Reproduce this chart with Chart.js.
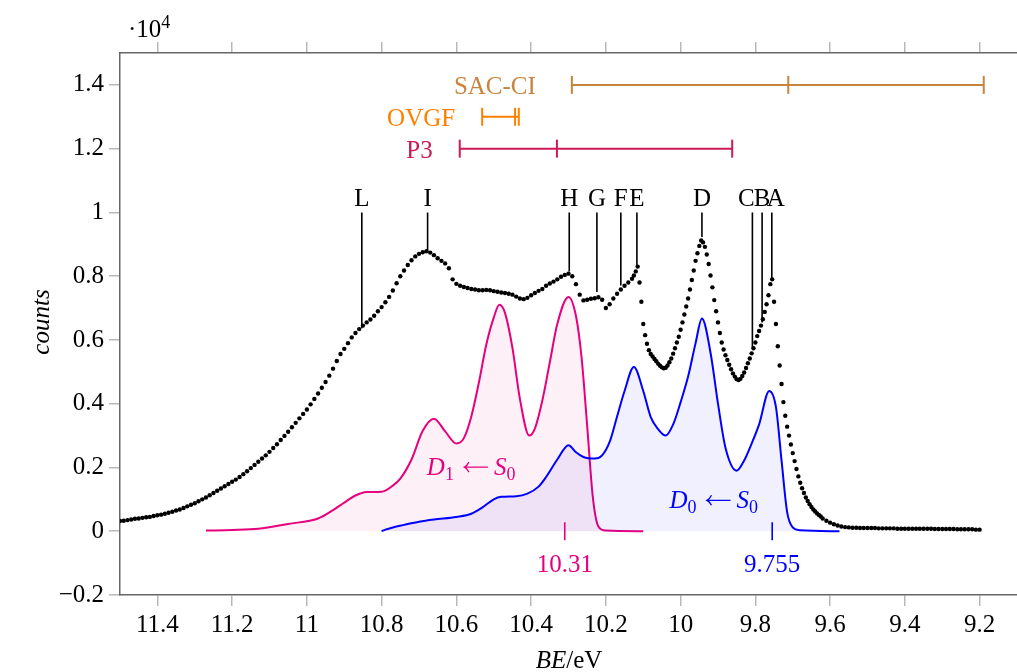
<!DOCTYPE html>
<html lang="en">
<head>
    <meta charset="UTF-8">
    <title>Photoelectron spectrum</title>
    <script src="https://cdn.jsdelivr.net/npm/chart.js"></script>
    <style>
        html, body { margin: 0; padding: 0; overflow: hidden; background: #fff; }
        #spectrumChart { display: block; }
    </style>
</head>
<body>

    <canvas id="spectrumChart" width="1028" height="672"></canvas>

    <script>
        // measured spectrum, BE in eV, counts in units of 10^4
        const expBE = [
            11.50, 11.49, 11.48, 11.47, 11.46, 11.45, 11.44, 11.43, 11.42, 11.41,
            11.40, 11.39, 11.38, 11.37, 11.36, 11.35, 11.34, 11.33, 11.32, 11.31,
            11.30, 11.29, 11.28, 11.27, 11.26, 11.25, 11.24, 11.23, 11.22, 11.21,
            11.20, 11.19, 11.18, 11.17, 11.16, 11.15, 11.14, 11.13, 11.12, 11.11,
            11.10, 11.09, 11.08, 11.07, 11.06, 11.05, 11.04, 11.03, 11.02, 11.01,
            11.00, 10.99, 10.98, 10.97, 10.96, 10.95, 10.94, 10.93, 10.92, 10.91,
            10.90, 10.89, 10.88, 10.87, 10.86, 10.85, 10.84, 10.83, 10.82, 10.81,
            10.80, 10.79, 10.78, 10.77, 10.76, 10.75, 10.74, 10.73, 10.72, 10.71,
            10.70, 10.69, 10.68, 10.67, 10.66, 10.65, 10.64, 10.63, 10.62, 10.61,
            10.60, 10.59, 10.58, 10.57, 10.56, 10.55, 10.54, 10.53, 10.52, 10.51,
            10.50, 10.49, 10.48, 10.47, 10.46, 10.45, 10.44, 10.43, 10.42, 10.41,
            10.40, 10.39, 10.38, 10.37, 10.36, 10.35, 10.34, 10.33, 10.32, 10.31,
            10.30, 10.29, 10.28, 10.27, 10.26, 10.25, 10.24, 10.23, 10.22, 10.21,
            10.20, 10.19, 10.18, 10.17, 10.16, 10.15, 10.14, 10.13,
            10.125, 10.120, 10.115, 10.110, 10.105, 10.100, 10.095, 10.090, 10.085, 10.080,
            10.075, 10.070, 10.065, 10.060, 10.055, 10.050, 10.045, 10.040, 10.035, 10.030,
            10.025, 10.020, 10.015, 10.010, 10.005, 10.000, 9.995, 9.990, 9.985, 9.980,
            9.975, 9.970, 9.965, 9.960, 9.955, 9.950, 9.945, 9.940, 9.935, 9.930,
            9.925, 9.920, 9.915, 9.910, 9.905, 9.900, 9.895, 9.890, 9.885, 9.880,
            9.875, 9.870, 9.865, 9.860, 9.855, 9.850, 9.845, 9.840, 9.835, 9.830,
            9.825, 9.820, 9.815, 9.810, 9.805, 9.800, 9.795, 9.790, 9.785, 9.780,
            9.775, 9.770, 9.765, 9.760, 9.755, 9.750, 9.745, 9.740, 9.735, 9.730,
            9.725, 9.720, 9.715, 9.710, 9.705, 9.700, 9.695, 9.690, 9.685, 9.680,
            9.675, 9.670, 9.665, 9.660, 9.655, 9.650, 9.645, 9.640, 9.635, 9.630,
            9.625,
            9.62, 9.61, 9.60, 9.59, 9.58, 9.57, 9.56, 9.55, 9.54, 9.53,
            9.52, 9.51, 9.50, 9.49, 9.48, 9.47, 9.46, 9.45, 9.44, 9.43,
            9.42, 9.41, 9.40, 9.39, 9.38, 9.37, 9.36, 9.35, 9.34, 9.33,
            9.32, 9.31, 9.30, 9.29, 9.28, 9.27, 9.26, 9.25, 9.24, 9.23,
            9.22, 9.21, 9.20
        ];
        const expCounts = [
            .032, .033, .035, .037, .039, .040, .042, .044, .045, .048,
            .050, .052, .055, .058, .061, .065, .068, .073, .078, .083,
            .088, .094, .100, .106, .113, .120, .127, .134, .141, .148,
            .155, .162, .170, .179, .188, .198, .208, .218, .228, .238,
            .249, .261, .273, .286, .299, .312, .326, .340, .354, .368,
            .382, .398, .415, .432, .450, .468, .488, .510, .534, .556,
            .572, .590, .608, .622, .634, .645, .655, .664, .676, .690,
            .703, .718, .735, .755, .778, .800, .818, .835, .850, .862,
            .870, .875, .878, .874, .866, .856, .848, .840, .825, .790,
            .776, .770, .766, .763, .760, .758, .756, .756, .757, .756,
            .753, .751, .749, .747, .745, .742, .736, .730, .728, .732,
            .740, .747, .754, .760, .770, .777, .783, .790, .798, .804,
            .808, .800, .775, .742, .724, .726, .729, .731, .734, .726,
            .700, .712, .730, .745, .758, .770, .780, .792,
            .802, .815, .830, .780, .720, .650, .615, .588, .568, .556,
            .548, .540, .533, .525, .519, .514, .511, .513, .520, .530,
            .542, .557, .574, .592, .610, .632, .655, .680, .705, .730,
            .758, .788, .818, .848, .872, .895, .912, .906, .892, .868,
            .838, .802, .765, .725, .690, .655, .622, .592, .570, .552,
            .537, .522, .508, .495, .485, .477, .474, .478, .487, .498,
            .512, .527, .542, .558, .574, .592, .612, .628, .645, .665,
            .688, .712, .740, .775, .790, .720, .650, .580, .520, .462,
            .405, .362, .328, .300, .272, .245, .220, .195, .172, .152,
            .135, .120, .106, .095, .085, .076, .068, .062, .056, .051,
            .046,
            .040, .033, .027, .022, .018, .015, .013, .012, .011, .011,
            .010, .010, .010, .010, .010, .009, .009, .009, .009, .009,
            .008, .008, .008, .008, .008, .008, .008, .008, .008, .008,
            .007, .007, .007, .007, .007, .007, .006, .006, .006, .006,
            .006, .005, .005
        ];

        // simulated D1 <- S0 band
        const d1BE = [11.27, 11.20, 11.13, 11.05, 10.97, 10.93, 10.90, 10.87, 10.84, 10.80,
            10.77, 10.75, 10.72, 10.69, 10.66, 10.63, 10.60, 10.58, 10.56, 10.54,
            10.52, 10.50, 10.485, 10.47, 10.45, 10.43, 10.405, 10.39, 10.37, 10.35,
            10.33, 10.30, 10.28, 10.265, 10.25, 10.235, 10.22, 10.20, 10.10];
        const d1Int = [.002, .004, .008, .023, .040, .066, .090, .112, .123, .124,
            .143, .165, .225, .315, .353, .313, .275, .292, .360, .465,
            .585, .670, .710, .685, .575, .415, .300, .322, .410, .530,
            .650, .735, .675, .545, .330, .108, .015, .002, 0];

        // simulated D0 <- S0 band
        const d0BE = [10.80, 10.79, 10.77, 10.74, 10.70, 10.66, 10.60, 10.56, 10.53, 10.50,
            10.48, 10.44, 10.41, 10.38, 10.36, 10.33, 10.30, 10.28, 10.26, 10.23,
            10.21, 10.19, 10.17, 10.15, 10.125, 10.10, 10.08, 10.06, 10.04, 10.02,
            10.00, 9.98, 9.96, 9.943, 9.92, 9.90, 9.88, 9.85, 9.83, 9.81,
            9.79, 9.763, 9.745, 9.73, 9.715, 9.70, 9.68, 9.575];
        const d0Int = [0, .005, .012, .020, .030, .037, .045, .055, .075, .100,
            .108, .110, .118, .140, .170, .225, .270, .248, .233, .228,
            .238, .280, .360, .440, .515, .440, .358, .320, .300, .335,
            .405, .485, .590, .667, .560, .400, .262, .190, .222, .275,
            .335, .440, .390, .222, .060, .012, .003, 0];

        // origin markers of the two bands
        const originBE = [10.31, 9.755];
        const originLabels = ["10.31", "9.755"];

        // assigned peaks
        const peakLabels = ["L", "I", "H", "G", "F", "E", "D", "C", "B", "A"];
        const peakBE = [10.853, 10.677, 10.298, 10.224, 10.160, 10.117, 9.943, 9.808, 9.782, 9.756];
        const peakFoot = [0.637, 0.880, 0.815, 0.750, 0.771, 0.829, 0.923, 0.573, 0.655, 0.790];
        const peakTop = 1.0;

        // calculated ionisation energies
        const methodNames = ["SAC-CI", "OVGF", "P3"];
        const methodLevels = [1.4, 1.3, 1.2];
        const sacciBE = [10.291, 9.712, 9.189];
        const ovgfBE = [10.531, 10.443, 10.433];
        const p3BE = [10.591, 10.331, 9.862];

        const xTicks = [11.4, 11.2, 11, 10.8, 10.6, 10.4, 10.2, 10, 9.8, 9.6, 9.4, 9.2];
        const yTicks = [-0.2, 0, 0.2, 0.4, 0.6, 0.8, 1, 1.2, 1.4];

        const FONT = "'Liberation Serif', 'DejaVu Serif', serif";
        const PINK = "#e6007e";
        const BLUE = "#0000ff";
        const methodColors = ["#c8843f", "#ff8000", "#cc1a58"];
        const methodGaps = [36, 27, 27];
        // letters of crowded peaks are nudged so they do not overlap
        const peakLabelShift = {C: -6, A: 4};

        const methodValues = [sacciBE, ovgfBE, p3BE];

        function fontFor(p) {
            const size = (p.sub || p.sup) ? 18 : 25;
            return (p.it ? "italic " : "") + size + "px " + FONT;
        }

        function drawRich(ctx, parts, x, y, align) {
            let total = 0;
            parts.forEach(p => {
                ctx.font = fontFor(p);
                p.w = p.arrow ? p.arrow : ctx.measureText(p.t).width;
                total += p.w + (p.pad || 0);
            });
            let cx = align === "center" ? x - total / 2 : x;
            ctx.textAlign = "left";
            ctx.textBaseline = "alphabetic";
            parts.forEach(p => {
                ctx.font = fontFor(p);
                if (p.arrow) {
                    // long left arrow like TeX's \leftarrow
                    const ay = y - 8;
                    ctx.strokeStyle = ctx.fillStyle;
                    ctx.lineWidth = 1.3;
                    ctx.beginPath();
                    ctx.moveTo(cx + p.w, ay);
                    ctx.lineTo(cx + 0.5, ay);
                    ctx.moveTo(cx + 5, ay - 5);
                    ctx.quadraticCurveTo(cx + 3, ay - 1, cx + 0.5, ay);
                    ctx.quadraticCurveTo(cx + 3, ay + 1, cx + 5, ay + 5);
                    ctx.stroke();
                } else {
                    const dy = p.sub ? 5 : (p.sup ? -9 : 0);
                    ctx.fillText(p.t, cx, y + dy);
                }
                cx += p.w + (p.pad || 0);
            });
        }

        const annotations = {
            id: "annotations",
            afterDraw(chart) {
                const ctx = chart.ctx;
                const x = chart.scales.x;
                const y = chart.scales.y;
                ctx.save();

                // peak letters
                ctx.font = "25px " + FONT;
                ctx.fillStyle = "#000";
                ctx.textAlign = "center";
                ctx.textBaseline = "alphabetic";
                peakLabels.forEach((l, i) => {
                    const shift = peakLabelShift[l] || 0;
                    ctx.fillText(l, x.getPixelForValue(peakBE[i]) + shift, y.getPixelForValue(peakTop) - 6);
                });

                // method names
                ctx.textAlign = "right";
                methodNames.forEach((name, i) => {
                    ctx.fillStyle = methodColors[i];
                    const left = x.getPixelForValue(Math.max(...methodValues[i]));
                    ctx.fillText(name, left - methodGaps[i], y.getPixelForValue(methodLevels[i]) + 9);
                });

                // origin values
                ctx.textAlign = "center";
                [PINK, BLUE].forEach((c, i) => {
                    ctx.fillStyle = c;
                    ctx.fillText(originLabels[i], x.getPixelForValue(originBE[i]), 572);
                });

                // band labels
                ctx.fillStyle = PINK;
                drawRich(ctx, [{t: "D", it: true}, {t: "1", sub: true, pad: 10}, {arrow: 24, pad: 6},
                    {t: "S", it: true}, {t: "0", sub: true}], x.getPixelForValue(10.679), y.getPixelForValue(0.176), "left");
                ctx.fillStyle = BLUE;
                drawRich(ctx, [{t: "D", it: true}, {t: "0", sub: true, pad: 10}, {arrow: 24, pad: 6},
                    {t: "S", it: true}, {t: "0", sub: true}], x.getPixelForValue(10.030), y.getPixelForValue(0.072), "left");

                // axis titles
                ctx.fillStyle = "#000";
                drawRich(ctx, [{t: "BE", it: true}, {t: "/eV"}], 569, 668, "center");
                drawRich(ctx, [{t: "\u00b710"}, {t: "4", sup: true}], 128, 37, "left");

                ctx.translate(42, 322);
                ctx.rotate(-Math.PI / 2);
                ctx.font = "italic 25px " + FONT;
                ctx.textAlign = "center";
                ctx.textBaseline = "middle";
                ctx.fillText("counts", 0, 0);
                ctx.restore();
            }
        };

        const pts = (xs, ys) => xs.map((v, i) => ({x: v, y: ys[i]}));

        const datasets = [];

        // vertical assignment lines
        datasets.push({
            data: peakBE.flatMap((v, i) => [{x: v, y: peakTop}, {x: v, y: peakFoot[i]}, {x: v, y: null}]),
            borderColor: "#000",
            borderWidth: 1.6,
            pointRadius: 0,
            spanGaps: false
        });

        // experiment
        datasets.push({
            data: pts(expBE, expCounts),
            showLine: false,
            pointRadius: 2.2,
            pointBackgroundColor: "#000",
            pointBorderWidth: 0
        });

        // calculated energies
        methodNames.forEach((name, i) => {
            datasets.push({
                data: methodValues[i].map(v => ({x: v, y: methodLevels[i]})),
                borderColor: methodColors[i],
                borderWidth: 2,
                pointStyle: "line",
                pointRotation: 90,
                pointRadius: 9,
                pointBorderColor: methodColors[i],
                pointBorderWidth: 2
            });
        });

        // band origins
        [PINK, BLUE].forEach((c, i) => {
            datasets.push({
                data: [{x: originBE[i], y: 0}],
                showLine: false,
                pointStyle: "line",
                pointRotation: 90,
                pointRadius: 9,
                pointBorderColor: c,
                pointBorderWidth: 1.6
            });
        });

        datasets.push({
            data: pts(d0BE, d0Int),
            borderColor: BLUE,
            borderWidth: 2,
            backgroundColor: "rgba(0, 0, 255, 0.06)",
            fill: "origin",
            pointRadius: 0,
            cubicInterpolationMode: "monotone"
        });

        datasets.push({
            data: pts(d1BE, d1Int),
            borderColor: PINK,
            borderWidth: 2,
            backgroundColor: "rgba(230, 0, 126, 0.06)",
            fill: "origin",
            pointRadius: 0,
            cubicInterpolationMode: "monotone"
        });

        const gridStyle = {drawOnChartArea: false, tickLength: 11, color: "#b8b8b8", lineWidth: 1.5};
        const borderStyle = {color: "#666", width: 1.5};
        const fmt = v => (v < 0 ? "\u2212" : "") + String(Math.abs(Math.round(v * 100) / 100));

        new Chart(document.getElementById("spectrumChart"), {
            type: "line",
            data: {datasets: datasets},
            options: {
                responsive: false,
                animation: false,
                devicePixelRatio: 1,
                layout: {padding: {left: 0, right: 4, top: 0, bottom: 0}},
                plugins: {legend: {display: false}, tooltip: {enabled: false}},
                scales: {
                    x: {
                        type: "linear",
                        position: "bottom",
                        reverse: true,
                        min: 9.1,
                        max: 11.5,
                        afterBuildTicks: s => { s.ticks = xTicks.map(v => ({value: v})); },
                        afterFit: s => { s.height = 77; s.paddingLeft = 0; s.paddingRight = 0; },
                        ticks: {callback: v => fmt(v), font: {family: FONT, size: 25}, color: "#000",
                            padding: 4, maxRotation: 0, autoSkip: false},
                        grid: gridStyle,
                        border: borderStyle
                    },
                    xTop: {
                        type: "linear",
                        position: "top",
                        reverse: true,
                        min: 9.1,
                        max: 11.5,
                        afterBuildTicks: s => { s.ticks = xTicks.map(v => ({value: v})); },
                        afterFit: s => { s.height = 53; s.paddingLeft = 0; s.paddingRight = 0; },
                        ticks: {display: false},
                        grid: gridStyle,
                        border: borderStyle
                    },
                    y: {
                        type: "linear",
                        position: "left",
                        min: -0.2,
                        max: 1.5,
                        afterBuildTicks: s => { s.ticks = yTicks.map(v => ({value: v})); },
                        afterFit: s => { s.width = 120; s.paddingTop = 0; s.paddingBottom = 0; },
                        ticks: {callback: v => fmt(v), font: {family: FONT, size: 25}, color: "#000", padding: 5},
                        grid: gridStyle,
                        border: borderStyle
                    }
                }
            },
            plugins: [annotations]
        });
    </script>

</body>
</html>
